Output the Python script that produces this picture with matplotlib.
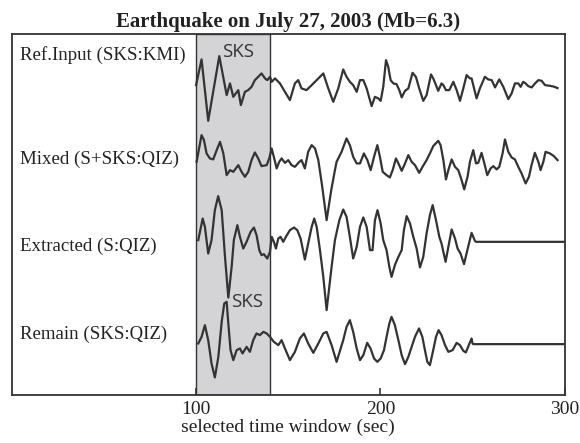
import matplotlib
matplotlib.use('Agg')
import matplotlib.pyplot as plt

# seismogram samples: time (sec) and amplitude relative to each trace's baseline
ref_t = [100.0, 103.0, 106.6, 112.6, 116.6, 118.4, 120.2, 122.9, 124.3, 126.5, 128.3, 130.1,
         131.9, 133.7, 135.5, 137.4, 138.6, 140.1, 141.0, 142.8, 145.5, 148.2, 150.9, 153.6,
         155.4, 157.2, 159.9, 162.7, 165.4, 169.0, 171.7, 174.4, 177.1, 179.8, 181.6, 183.4,
         185.2, 187.1, 188.9, 190.7, 192.5, 195.2, 197.0, 198.8, 200.1, 201.5, 203.0, 204.2,
         205.5, 207.0, 208.7, 210.2, 211.5, 213.3, 215.1, 217.4, 219.2, 221.0, 223.2, 225.0,
         227.4, 228.6, 230.1, 231.3, 233.1, 234.1, 235.5, 237.3, 239.5, 241.3, 243.1, 244.9,
         246.7, 248.5, 249.4, 252.1, 253.9, 256.6, 258.4, 260.3, 262.1, 264.4, 266.6, 269.3,
         271.1, 272.9, 274.7, 276.0, 277.4, 278.7, 280.1, 282.0, 283.8, 285.6, 287.4, 289.2,
         291.9, 294.0, 296.0]
ref_a = [0, 25.7, -35.7, 29, -10, 1.7, -11.7, -5, -20, -6.7, -5, -1.7,
         5, 8.3, 11.7, 6.7, 5, 8.3, 3.3, 6.7, 1.7, -6.7, -15, 1.7,
         5, -3.3, -5, 0, 5, 11.7, -3.3, -16.7, -3.3, 15.7, 8.3, 3.3,
         0, -6.7, 5, 5, -3.3, -21, -11.7, -13.3, -15.7, -1.7, 25, 18.3,
         5, 1.7, 1, -5, -12.3, -5.7, -3.3, 12.3, 8.3, -3.3, -15.7, -10,
         10.7, 6.7, 0, -5.7, 1.7, 0, -5, -5, 3.3, -5, -15.7, -3.3,
         10, 6.7, 6.7, -13.3, -3.3, 8.3, 5.7, 5, -2.3, 5.7, -1.7, -14,
         -8.3, 1.7, 1.7, -1.7, 3.3, 1.7, -1, -2.3, 1.7, 5, 4.3, 0,
         -0.7, -1.5, -3.0]

mix_t = [100.3, 103.0, 104.3, 105.7, 107.5, 109.3, 111.2, 113.0, 114.8, 116.6, 118.4, 120.2,
         122.9, 124.7, 126.5, 128.3, 130.1, 131.9, 133.7, 135.5, 138.3, 139.7, 141.0, 142.4,
         143.7, 145.1, 146.4, 148.2, 150.0, 151.8, 153.6, 156.0, 157.2, 159.0, 160.8, 162.7,
         164.5, 166.3, 168.3, 170.8, 173.3, 175.3, 176.2, 178.9, 181.6, 183.4, 185.2, 187.1,
         188.9, 191.0, 192.9, 194.7, 196.5, 198.3, 199.7, 201.2, 203.3, 205.1, 206.6, 208.4,
         209.7, 211.5, 213.3, 215.1, 216.9, 218.7, 221.0, 222.8, 225.0, 226.8, 228.6, 231.3,
         232.6, 234.1, 235.5, 236.8, 238.6, 240.4, 242.2, 244.0, 245.4, 247.2, 248.5, 250.3,
         251.8, 253.0, 254.8, 256.1, 257.9, 259.7, 261.2, 263.0, 264.4, 266.2, 267.5, 269.3,
         271.1, 272.9, 274.7, 276.5, 278.7, 280.5, 281.9, 283.7, 285.6, 286.8, 288.3, 289.5,
         291.9, 294.0, 296.0]
mix_a = [-21.7, 5, 0, -13.3, -18.3, -19.3, -10, -1.7, -13.3, -35, -30, -31.7,
         -25, -31.7, -36.7, -31.7, -20, -12.3, -18.3, -26, -25, -18.3, -8.3, -18.3,
         -28.3, -21.7, -18.3, -22.7, -20, -25, -26.7, -21.7, -20, -28.3, -11.7, -5,
         -8.3, -20, -45, -80, -50, -30, -21.7, -11.7, 1.7, -5, -16.7, -23.3,
         -23.3, -13.3, -20, -30, -16.7, -5, -16.7, -31.7, -35, -37.3, -30, -18.3,
         -23.3, -30.7, -23.3, -15, -21.7, -25, -32.7, -26.7, -20, -13.3, -6, -0.7,
         -5, -20, -39.3, -30, -19.3, -26.7, -30, -40, -49.3, -36.7, -21.7, -10,
         -23.3, -22.7, -12.7, -21.7, -35, -28.3, -26, -29.3, -26.7, -13.3, 0.7, -11.7,
         -17.3, -19.3, -26.7, -33.3, -43.3, -36.7, -25, -12.7, -21.7, -30, -21.7, -11.7,
         -13.3, -16.0, -20.0]

ext_t = [101.2, 103.6, 104.8, 106.6, 108.4, 110.2, 112.0, 113.9, 115.7, 117.5, 119.3, 120.5,
         122.4, 123.8, 125.6, 127.4, 129.6, 131.4, 132.8, 134.3, 135.5, 136.8, 138.6, 140.1,
         141.0, 142.2, 143.3, 144.6, 145.8, 147.3, 148.7, 150.9, 153.1, 154.9, 156.7, 159.0,
         160.8, 162.7, 164.1, 165.4, 167.2, 169.0, 170.8, 173.5, 175.3, 177.7, 179.8, 181.6,
         183.4, 185.2, 187.1, 188.9, 190.7, 192.5, 194.3, 195.7, 197.0, 198.4, 200.1, 201.5,
         203.3, 204.8, 206.0, 207.8, 209.7, 211.5, 212.7, 214.2, 216.0, 217.8, 219.6, 221.4,
         223.2, 225.0, 226.8, 228.3, 230.1, 231.9, 233.1, 235.3, 236.8, 238.6, 240.4, 241.8,
         243.4, 245.3, 247.1, 249.4, 251.2, 251.8, 300.0]
ext_a = [1.7, 23.3, 15, -11.7, 1.7, 31.7, 45.7, 31.7, -15, -55.7, -25, 1.7,
         16.7, 5, -6.7, 0, 10, 14.3, 6.7, -8.3, -13.3, -12.3, -16.7, -10,
         5, 0, -6.7, 3.3, 5, 0, 5, 11.7, 14.3, 11.7, 3.3, -17.7,
         -1.7, 15, 23.3, 15, -8.3, -35, -68.3, -25, 1.7, 21.7, 32.3, 25,
         5, -16.7, -5, 15, 24.4, 15, -8.3, -8.3, 21.7, 31.7, 18.4, 1.7,
         -8.3, -25, -35, -23.3, -15, -8.3, 11.7, 25.7, 18.4, 5, -6.7, -25.6,
         -15, 8.4, 26.7, 36.7, 21.7, 5, -1.7, -20, -5, 12.4, 3.4, -6.7,
         -11.7, -22.3, -8.3, 9, 1, 0, 0]

rem_t = [101.2, 103.0, 104.8, 106.6, 108.4, 110.2, 112.1, 113.9, 115.3, 116.6, 117.5, 118.7,
         120.2, 122.0, 123.8, 125.2, 127.4, 129.2, 131.0, 132.8, 134.6, 136.5, 138.3, 140.1,
         142.2, 144.6, 146.4, 148.2, 150.9, 153.6, 156.3, 158.5, 160.8, 163.6, 166.3, 169.0,
         170.8, 173.5, 176.2, 179.8, 181.6, 183.4, 185.2, 187.1, 188.9, 190.7, 192.8, 194.6,
         196.5, 198.3, 200.1, 201.9, 203.3, 204.8, 206.0, 207.8, 209.7, 211.5, 213.3, 215.1,
         216.9, 218.7, 220.9, 222.7, 224.1, 225.4, 226.8, 228.6, 230.1, 231.5, 233.1, 235.0,
         236.8, 239.1, 241.3, 243.1, 244.9, 246.3, 248.1, 249.4, 249.9, 250.3, 300.0]
rem_a = [0.7, 7.3, 19, 4, -19.3, -33.3, -12.7, 22.3, 40.7, 42.3, 20.7, -6,
         -16, -6, -4.3, -9.3, -2.7, -7.7, 4, 10.7, 9, 12.3, 10.7, 7.3,
         2.3, -1, 4, -4.3, -16, -7.7, 5.7, 10.7, 0.7, -8.7, 0.7, 10.7,
         12.3, -1, -17.7, 4, 17.3, 24, 12.3, -4.3, -16, -11, 1.3, -4.3,
         -14.3, -17.7, -14.3, -6, 7.3, 20.7, 27.3, 19, 4, -11, -20, -12.7,
         -2.7, 7.3, 15.7, 7.3, -6, -17.7, -21, -6, 7.3, 14, 9, -1,
         -7.7, -6, 1.3, -1, -6.7, -8.3, 0, 5.7, 0.7, 0, 0]

labels = ['Ref.Input (SKS:KMI)', 'Mixed (S+SKS:QIZ)', 'Extracted (S:QIZ)', 'Remain (SKS:QIZ)']
baselines = [310, 255, 153.3, 51]
label_y = [340, 236, 149, 61]
traces = [(ref_t, ref_a), (mix_t, mix_a), (ext_t, ext_a), (rem_t, rem_a)]

ink = '#333333'
serif = ['Liberation Serif', 'DejaVu Serif']

fig = plt.figure(figsize=(5.8, 4.43), dpi=100)
ax = fig.add_axes([0.020, 0.108, 0.954, 0.815])

# window used for the SKS phase
ax.axvspan(100, 140, facecolor='#d4d4d6', edgecolor=ink, linewidth=1.0, zorder=0)

for (t, a), base in zip(traces, baselines):
    ax.plot(t, [base + v for v in a], color=ink, linewidth=1.6,
            solid_joinstyle='round', zorder=2)

for lab, y in zip(labels, label_y):
    ax.text(4.5, y, lab, family=serif, fontsize=13.6, color='#222222', ha='left', va='center')

ax.text(123.0, 343, 'SKS', family='Open Sans', fontsize=13.5, color=ink, ha='center', va='center')
ax.text(127.4, 93, 'SKS', family='Open Sans', fontsize=13.5, color=ink, ha='center', va='center')

ax.set_xlim(0, 300)
ax.set_ylim(0, 361)
ax.set_xticks([100, 200, 300])
ax.set_xticklabels(['100', '200', '300'], family=serif, fontsize=14, color='#222222')
ax.set_yticks([])
ax.tick_params(axis='x', direction='in', length=5, width=1.2, color=ink, pad=4)
for s in ax.spines.values():
    s.set_color(ink)
    s.set_linewidth(1.3)

ax.set_xlabel('selected time window (sec)', family=serif, fontsize=14, color='#222222', labelpad=1)
ax.set_title('Earthquake on July 27, 2003 (Mb=6.3)', family=serif, fontsize=15, fontweight='bold',
             color='#222222', pad=5)

fig.savefig('out.png', dpi=100)
